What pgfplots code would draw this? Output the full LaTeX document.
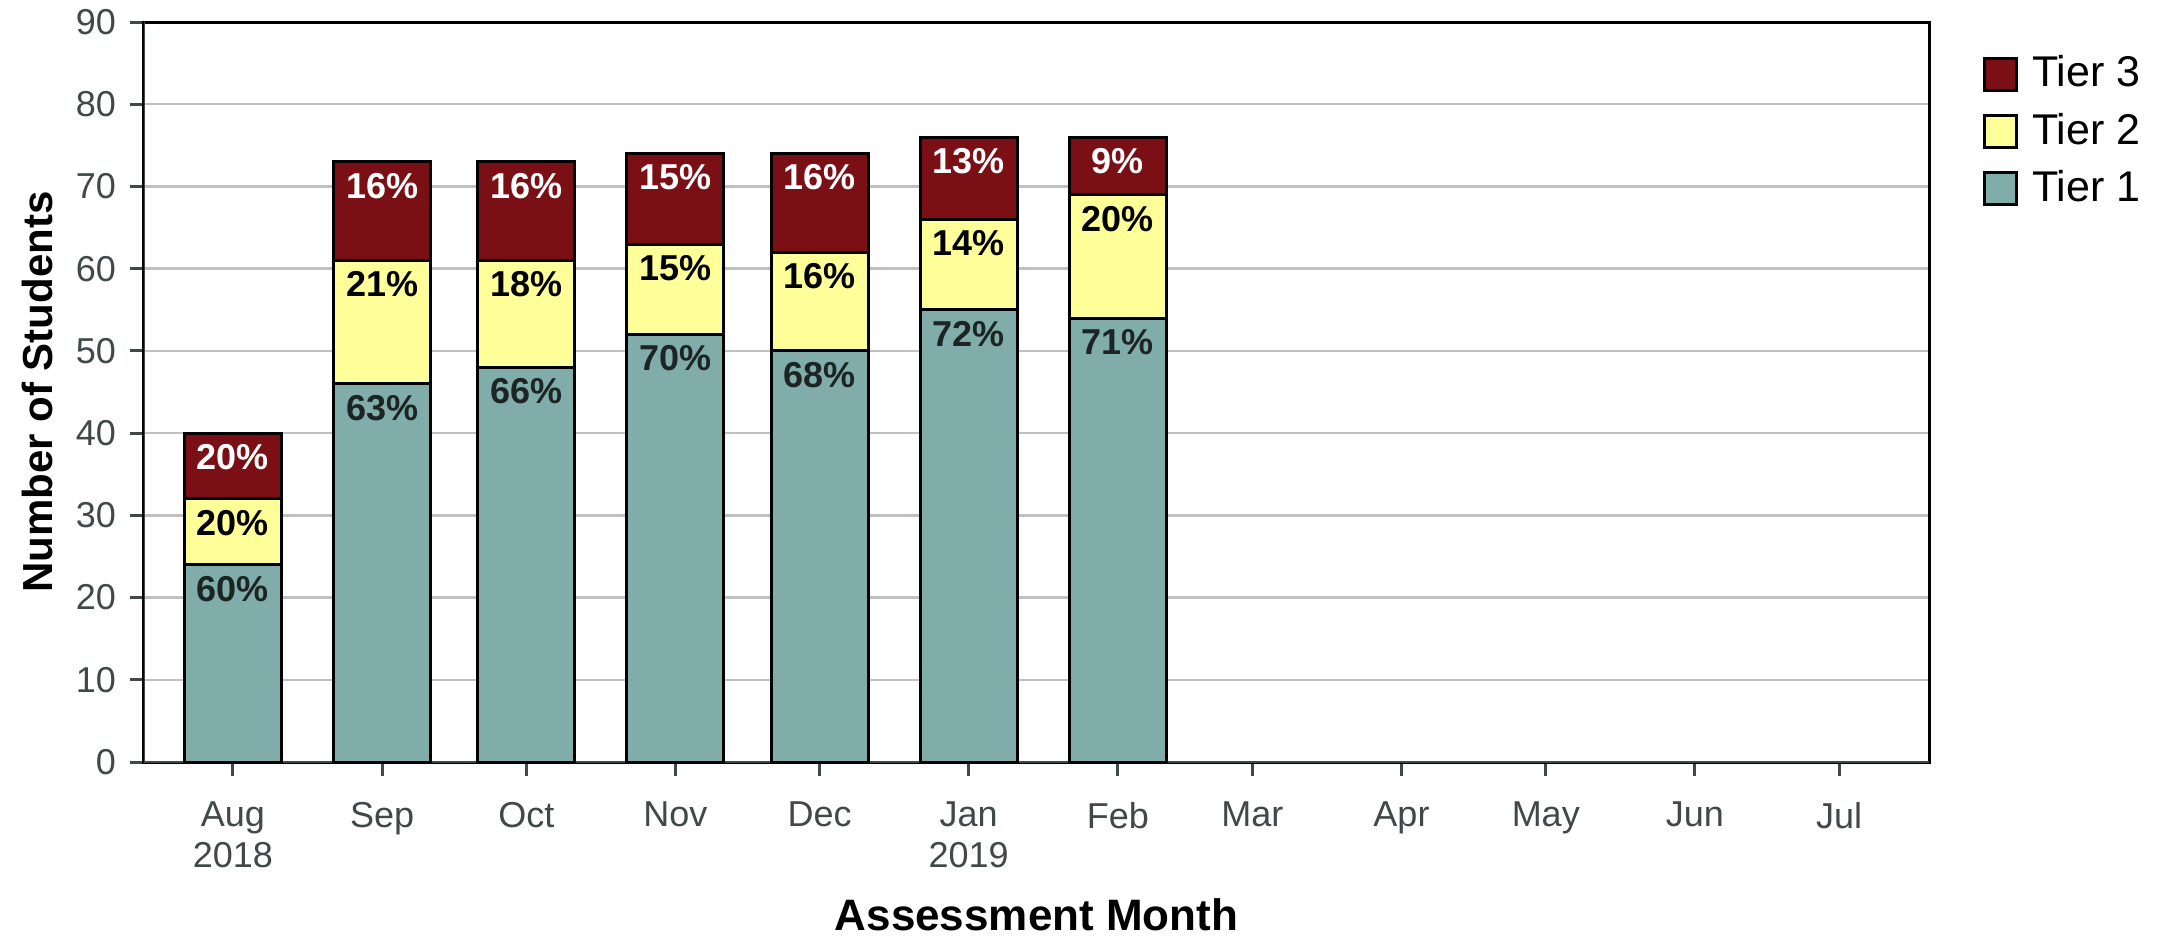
\documentclass[border=0pt]{standalone}
\usepackage{fontspec}
\setmainfont{Liberation Sans}
\usepackage{pgfplots}
\pgfplotsset{compat=1.18}
\definecolor{tierone}{RGB}{128,173,169}
\definecolor{tiertwo}{RGB}{255,255,153}
\definecolor{tierthree}{RGB}{122,16,22}
\definecolor{gridgray}{RGB}{192,192,192}
\definecolor{axisgray}{RGB}{64,72,72}
\definecolor{labeldark}{RGB}{28,36,36}
\begin{document}
\begin{tikzpicture}
\begin{axis}[
  scale only axis, width=446.25pt, height=185pt,
  ybar stacked, bar width=20.2,
  xmin=-18.5, xmax=352.7, ymin=0, ymax=90,
  xtick={0,31,61,92,122,153,184,212,243,273,304,334},
  xticklabels={Aug\\2018,Sep,Oct,Nov,Dec,Jan\\2019,Feb,Mar,Apr,May,Jun,Jul},
  ytick={0,10,...,90},
  ymajorgrids, major grid style={gridgray, line width=0.6pt},
  tick align=outside, major tick length=3.5pt, tick pos=left,
  tick style={axisgray, line width=0.75pt},
  axis line style={black, line width=0.75pt},
  tick label style={font=\fontsize{9}{10.25}\selectfont, text=axisgray},
  xticklabel style={align=center, anchor=north, yshift=-3pt},
  /pgf/number format/assume math mode=true,
  xlabel={Assessment Month}, ylabel={Number of Students},
  xlabel style={font=\bfseries\fontsize{11}{13}\selectfont, at={(axis description cs:0.5,-0.2068)}, anchor=center},
  ylabel style={font=\bfseries\fontsize{10.5}{12}\selectfont, at={(axis description cs:-0.0594,0.5)}, anchor=center},
  point meta=explicit symbolic,
  visualization depends on=rawy \as \rawy,
  nodes near coords={\pgfplotspointmeta\%},
  every node near coord/.append style={font=\bfseries\fontsize{9}{10}\selectfont, anchor=center,
     yshift={\rawy*1.027778-6}},
  legend image code/.code={\draw[#1, line width=0.75pt] (0pt,-4pt) rectangle (8pt,4pt);},
  reverse legend,
  legend style={draw=none, fill=none, at={(rel axis cs:1,1)}, anchor=north west, xshift=13.3pt, yshift=-6.25pt,
    inner sep=0pt, row sep=1pt, column sep=1.5pt, font=\fontsize{10.75}{12}\selectfont},
  legend cell align=left,
]
\addplot[fill=tierone, draw=black, line width=0.75pt, every node near coord/.append style={text=labeldark}]
  coordinates {(0,24)[60] (31,46)[63] (61,48)[66] (92,52)[70] (122,50)[68] (153,55)[72] (184,54)[71]};
\addlegendentry{Tier 1}
\addplot[fill=tiertwo, draw=black, line width=0.75pt, every node near coord/.append style={text=black}]
  coordinates {(0,8)[20] (31,15)[21] (61,13)[18] (92,11)[15] (122,12)[16] (153,11)[14] (184,15)[20]};
\addlegendentry{Tier 2}
\addplot[fill=tierthree, draw=black, line width=0.75pt, every node near coord/.append style={text=white}]
  coordinates {(0,8)[20] (31,12)[16] (61,12)[16] (92,11)[15] (122,12)[16] (153,10)[13] (184,7)[9]};
\addlegendentry{Tier 3}
\draw[axisgray, line width=0.75pt] (rel axis cs:0,1) -- (rel axis cs:0,0) -- (rel axis cs:1,0);
\end{axis}
\pgfresetboundingbox
\path (-36pt,-43.25pt) rectangle (507pt,190.5pt);
\end{tikzpicture}
\end{document}
